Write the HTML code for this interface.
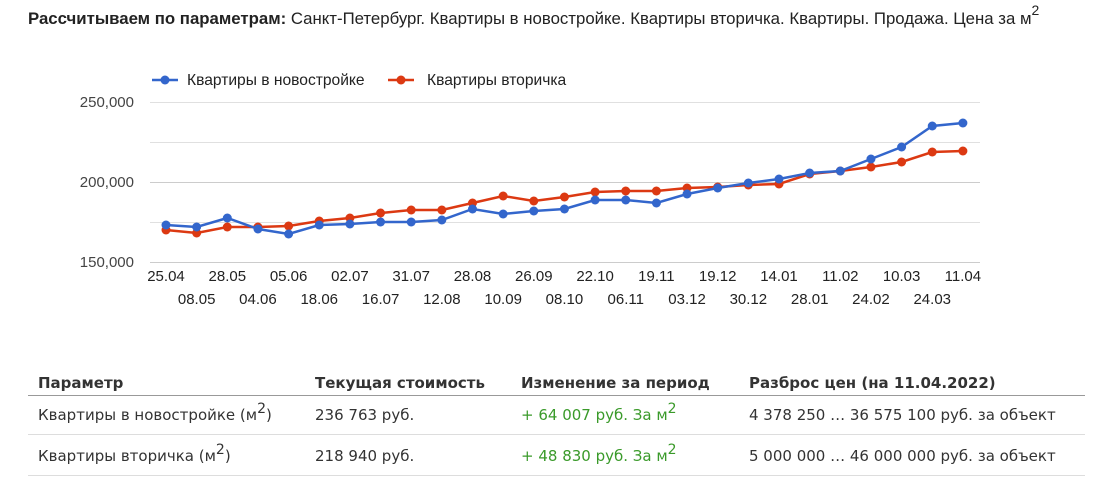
<!DOCTYPE html>
<html><head><meta charset="utf-8"><style>
body{margin:0;width:1119px;height:492px;background:#fff;position:relative;overflow:hidden;font-family:"Liberation Sans",sans-serif;color:#222}
.t{position:absolute;white-space:nowrap}
.tb{font-family:"DejaVu Sans",sans-serif;font-size:15px;color:#333}
.h{font-weight:bold;color:#333}
.g{color:#3a9a2a}
.ln{position:absolute;left:28px;width:1057px;height:1px;background:#ddd}
sup{font-size:14px;vertical-align:7px;line-height:0}
</style></head><body>
<div class="t" style="left:28px;top:9px;font-size:16.8px;color:#222"><b>Рассчитываем по параметрам:</b> Санкт-Петербург. Квартиры в новостройке. Квартиры вторичка. Квартиры. Продажа. Цена за м<sup style="font-size:14px;vertical-align:9px">2</sup></div>
<svg style="position:absolute;left:0;top:0" width="1119" height="340" font-family="Liberation Sans, sans-serif" font-size="15" fill="#222">
<g stroke="#e0e0e0" stroke-width="1"><line x1="150" y1="102.5" x2="980" y2="102.5"/><line x1="150" y1="142.5" x2="980" y2="142.5"/><line x1="150" y1="182.5" x2="980" y2="182.5" stroke="#ccc"/><line x1="150" y1="222.5" x2="980" y2="222.5"/><line x1="150" y1="262.5" x2="980" y2="262.5" stroke="#ccc"/></g>
<g text-anchor="end" fill="#444"><text x="134" y="107">250,000</text><text x="134" y="187">200,000</text><text x="134" y="267">150,000</text></g>
<line x1="152" y1="80" x2="178" y2="80" stroke="#3366cc" stroke-width="2.5"/><circle cx="165" cy="80" r="4.5" fill="#3366cc"/>
<text x="187" y="85" font-size="15.6">Квартиры в новостройке</text>
<line x1="388" y1="80" x2="414" y2="80" stroke="#dc3912" stroke-width="2.5"/><circle cx="401" cy="80" r="4.5" fill="#dc3912"/>
<text x="427" y="85" font-size="15.6">Квартиры вторичка</text>
<g id="c"></g>
<g text-anchor="middle" fill="#222" id="lb"></g>
</svg>
<script>
var xs=[],b=[225,227,218,229,234,225,224,222,222,220,209,214,211,209,200,200,203,194,188,183,179,173,171,159,147,126,123],r=[230,233,227,227,226,221,218,213,210,210,203,196,201,197,192,191,191,188,187,185,184,174,171,167,162,152,151];
for(var i=0;i<27;i++)xs.push(166+i*30.65);
var ns='http://www.w3.org/2000/svg',g=document.getElementById('c');
function ser(a,c){var p=document.createElementNS(ns,'polyline');p.setAttribute('points',a.map(function(y,i){return xs[i]+','+y}).join(' '));p.setAttribute('fill','none');p.setAttribute('stroke',c);p.setAttribute('stroke-width','2.5');g.appendChild(p);a.forEach(function(y,i){var q=document.createElementNS(ns,'circle');q.setAttribute('cx',xs[i]);q.setAttribute('cy',y);q.setAttribute('r','4.5');q.setAttribute('fill',c);g.appendChild(q);});}
ser(r,'#dc3912');ser(b,'#3366cc');
var L=['25.04','08.05','28.05','04.06','05.06','18.06','02.07','16.07','31.07','12.08','28.08','10.09','26.09','08.10','22.10','06.11','19.11','03.12','19.12','30.12','14.01','28.01','11.02','24.02','10.03','24.03','11.04'],lb=document.getElementById('lb');
L.forEach(function(s,i){var t=document.createElementNS(ns,'text');t.setAttribute('x',xs[i]);t.setAttribute('y',i%2?304:281);t.textContent=s;lb.appendChild(t);});
</script>
<div class="t tb h" style="left:38px;top:374px">Параметр</div>
<div class="t tb h" style="left:315px;top:374px">Текущая стоимость</div>
<div class="t tb h" style="left:521px;top:374px">Изменение за период</div>
<div class="t tb h" style="left:749px;top:374px">Разброс цен (на 11.04.2022)</div>
<div class="ln" style="top:395px;background:#999"></div>
<div class="t tb" style="left:38px;top:406px">Квартиры в новостройке (м<sup>2</sup>)</div>
<div class="t tb" style="left:315px;top:406px">236 763 руб.</div>
<div class="t tb g" style="left:521px;top:406px">+ 64 007 руб. За м<sup>2</sup></div>
<div class="t tb" style="left:749px;top:406px">4 378 250 … 36 575 100 руб. за объект</div>
<div class="ln" style="top:434px"></div>
<div class="t tb" style="left:38px;top:447px">Квартиры вторичка (м<sup>2</sup>)</div>
<div class="t tb" style="left:315px;top:447px">218 940 руб.</div>
<div class="t tb g" style="left:521px;top:447px">+ 48 830 руб. За м<sup>2</sup></div>
<div class="t tb" style="left:749px;top:447px">5 000 000 … 46 000 000 руб. за объект</div>
<div class="ln" style="top:475px"></div>
</body></html>
